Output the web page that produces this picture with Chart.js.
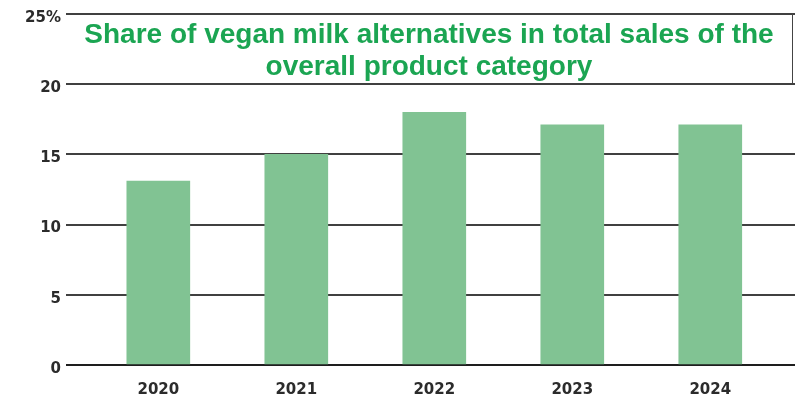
<!DOCTYPE html>
<html>
<head>
<meta charset="utf-8">
<script src="https://cdn.jsdelivr.net/npm/chart.js@4/dist/chart.umd.min.js"></script>
<style>
  html, body { margin: 0; padding: 0; background: #fff; overflow: hidden; }
  #wrap { position: relative; width: 795px; height: 396px; }
  canvas { display: block; }
  #title {
    position: absolute; left: 66px; top: 13px; width: 727px; height: 70px;
    border-right: 1.5px solid #444; box-sizing: border-box;
    font-family: "Liberation Sans", Arial, sans-serif; font-weight: bold;
    font-size: 28px; line-height: 31.5px; color: #1ba552; text-align: center;
    padding-top: 5px; padding-left: 0px;
  }
</style>
</head>
<body>
<div id="wrap">
  <canvas id="c" width="795" height="396"></canvas>
  <div id="title">Share of vegan milk alternatives in total sales of the<br>overall product category</div>
</div>
<script>
const categories = ['2020', '2021', '2022', '2023', '2024'];
const shareValues = [13.1, 15, 18, 17.1, 17.1];
const yTicks = [0, 5, 10, 15, 20, 25];

const years = categories.map(Number);
const points = years.map((y, i) => ({ x: y, y: shareValues[i] }));

new Chart(document.getElementById('c'), {
  type: 'bar',
  data: {
    datasets: [{
      data: points,
      backgroundColor: '#81c393',
      borderWidth: 0,
      barThickness: 63
    }]
  },
  options: {
    responsive: false,
    animation: false,
    layout: { padding: { top: 11, right: 0, bottom: 0, left: 0 } },
    plugins: { legend: { display: false }, tooltip: { enabled: false }, title: { display: false } },
    scales: {
      x: {
        type: 'linear',
        offset: false,
        min: years[0] - 0.669,
        max: years[years.length - 1] + 0.614,
        afterBuildTicks: (scale) => { scale.ticks = years.map(v => ({ value: v })); },
        afterFit: (scale) => { scale.height = 31; },
        grid: { display: false, drawTicks: false },
        border: { display: false },
        ticks: {
          padding: 16,
          color: '#2b2b2b',
          maxRotation: 0,
          font: { family: 'DejaVu Sans', size: 15, weight: 'bold', lineHeight: 1.2 },
          callback: (v) => categories[years.indexOf(v)] ?? ''
        }
      },
      y: {
        min: 0,
        max: 25,
        afterBuildTicks: (scale) => { scale.ticks = yTicks.map(v => ({ value: v })); },
        afterFit: (scale) => { scale.width = 66; },
        grid: {
          color: (ctx) => ctx.tick && ctx.tick.value === 0 ? '#1e1e1e' : '#404040',
          lineWidth: 2,
          drawTicks: false
        },
        border: { display: false },
        ticks: {
          padding: 5,
          labelOffset: 4,
          color: '#2b2b2b',
          font: { family: 'DejaVu Sans', size: 15, weight: 'bold' },
          callback: (v) => v === 25 ? v + '%' : v
        }
      }
    }
  }
});
</script>
</body>
</html>
